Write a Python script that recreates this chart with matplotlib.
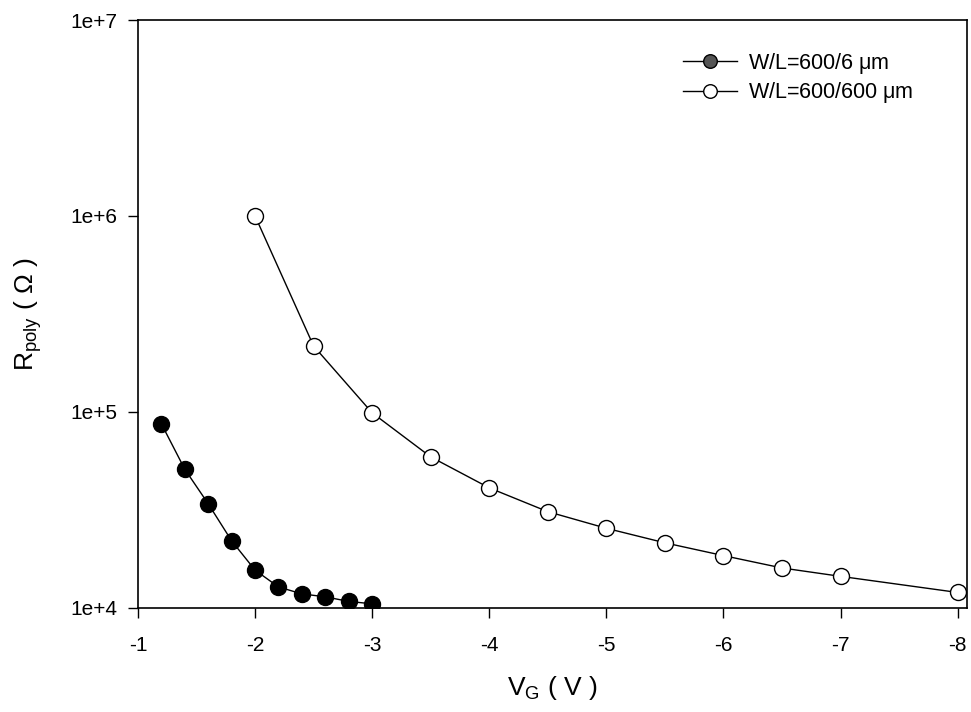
import matplotlib.pyplot as plt
from matplotlib.ticker import FixedLocator, FixedFormatter, NullLocator

plt.rcParams['font.family'] = ['Liberation Sans', 'DejaVu Sans']
plt.rcParams['mathtext.fontset'] = 'custom'
plt.rcParams['mathtext.rm'] = 'Liberation Sans'
plt.rcParams['mathtext.it'] = 'Liberation Sans'

# W/L = 600/6 um
vg_short = [-1.2, -1.4, -1.6, -1.8, -2.0, -2.2, -2.4, -2.6, -2.8, -3.0]
r_short = [8.7e4, 5.1e4, 3.4e4, 2.2e4, 1.56e4, 1.28e4, 1.18e4, 1.14e4, 1.08e4, 1.05e4]

# W/L = 600/600 um
vg_long = [-2.0, -2.5, -3.0, -3.5, -4.0, -4.5, -5.0, -5.5, -6.0, -6.5, -7.0, -8.0]
r_long = [1.0e6, 2.17e5, 9.9e4, 5.9e4, 4.1e4, 3.1e4, 2.55e4, 2.15e4, 1.85e4, 1.6e4, 1.45e4, 1.2e4]

x_ticks = [-1, -2, -3, -4, -5, -6, -7, -8]
y_ticks = [1e4, 1e5, 1e6, 1e7]
y_labels = ['1e+4', '1e+5', '1e+6', '1e+7']

fig = plt.figure(figsize=(9.71, 7.12), dpi=100)
ax = fig.add_axes([0.1421, 0.1461, 0.8538, 0.8258])

ax.plot(vg_short, r_short, color='black', lw=1, marker='o', ms=11.5,
        mfc='black', mec='black', label=r'W/L=600/6 $\mu$m')
ax.plot(vg_long, r_long, color='black', lw=1, marker='o', ms=11.5,
        mfc='white', mec='black', mew=1, label=r'W/L=600/600 $\mu$m')

ax.set_yscale('log')
ax.set_ylim(1e4, 1e7)
ax.set_xlim(-1, -8.08)
ax.xaxis.set_major_locator(FixedLocator(x_ticks))
ax.set_xticklabels([str(t) for t in x_ticks])
ax.yaxis.set_major_locator(FixedLocator(y_ticks))
ax.yaxis.set_major_formatter(FixedFormatter(y_labels))
ax.yaxis.set_minor_locator(NullLocator())
ax.tick_params(axis='both', direction='out', length=7, width=1, labelsize=15,
               top=False, right=False)
ax.tick_params(axis='y', pad=8)
ax.tick_params(axis='x', pad=13)
for s in ax.spines.values():
    s.set_linewidth(1.2)

ax.set_xlabel(r'V$_\mathrm{G}$ ( V )', fontsize=19, labelpad=14)
ax.set_ylabel(r'R$_\mathrm{poly}$ ( $\Omega$ )', fontsize=19, labelpad=19)

leg = ax.legend(loc='upper left', frameon=False, fontsize=15.5,
                handlelength=2.5, handletextpad=0.5, markerscale=0.85,
                labelspacing=0.2, borderpad=0, borderaxespad=0,
                bbox_to_anchor=(683 / 971, 1 - 51 / 712),
                bbox_transform=fig.transFigure)
leg.legend_handles[0].set_markerfacecolor('#555555')

fig.savefig('out.png', dpi=100)
